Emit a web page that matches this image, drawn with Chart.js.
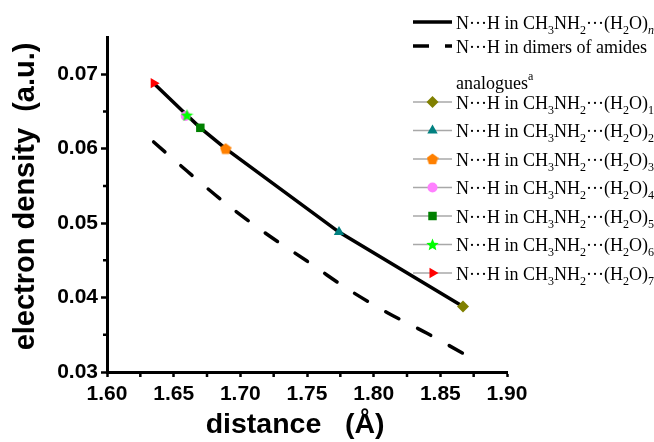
<!DOCTYPE html>
<html>
<head>
<meta charset="utf-8">
<script src="https://cdn.jsdelivr.net/npm/chart.js@4.4.0/dist/chart.umd.min.js"></script>
<style>
html, body { margin: 0; padding: 0; background: #fff; }
#wrap { width: 654px; height: 442px; position: relative; }
</style>
</head>
<body>
<div id="wrap"><canvas id="chart" width="654" height="442"></canvas></div>
<script>
// N...H distance (A) vs electron density (a.u.)
const fitDistance = [1.635, 1.660, 1.670, 1.689, 1.774, 1.867];
const fitDensity  = [0.0688, 0.0645, 0.0628, 0.0600, 0.0488, 0.0388];

const amideDistance = [1.635, 1.660, 1.690, 1.720, 1.750, 1.780, 1.810, 1.840, 1.868];
const amideDensity  = [0.0609, 0.0570, 0.0525, 0.0485, 0.0449, 0.0412, 0.0380, 0.0352, 0.0324];

const clusterN        = ['1', '2', '3', '4', '5', '6', '7'];
const clusterDistance = [1.867, 1.774, 1.689, 1.659, 1.670, 1.660, 1.635];
const clusterDensity  = [0.0388, 0.0488, 0.0600, 0.0644, 0.0628, 0.0645, 0.0688];
const clusterColors   = ['#808000', '#008080', '#FF8000', '#FF80FF', '#008000', '#00FF00', '#FF0000'];

const xTicks = [1.60, 1.65, 1.70, 1.75, 1.80, 1.85, 1.90];
const yTicks = [0.03, 0.04, 0.05, 0.06, 0.07];

function makePentagon(size, color) {
    const c = document.createElement('canvas');
    c.width = c.height = size;
    const g = c.getContext('2d');
    const r = size / 2;
    g.fillStyle = color;
    g.beginPath();
    for (let i = 0; i < 5; i++) {
        const a = -Math.PI / 2 + i * 2 * Math.PI / 5;
        g.lineTo(r + r * Math.cos(a), r + 0.5 + r * Math.sin(a));
    }
    g.closePath();
    g.fill();
    return c;
}

function makeStar(size, color) {
    const c = document.createElement('canvas');
    c.width = c.height = size;
    const g = c.getContext('2d');
    const r = size / 2, ri = r * 0.45;
    g.fillStyle = color;
    g.beginPath();
    for (let i = 0; i < 10; i++) {
        const a = -Math.PI / 2 + i * Math.PI / 5;
        const rr = i % 2 ? ri : r;
        g.lineTo(r + rr * Math.cos(a), r + 0.5 + rr * Math.sin(a));
    }
    g.closePath();
    g.fill();
    return c;
}

const clusterStyles = [
    { pointStyle: 'rectRot', radius: 6, rotation: 0 },
    { pointStyle: 'triangle', radius: 6, rotation: 0 },
    { pointStyle: makePentagon(12, clusterColors[2]), radius: 6, rotation: 0 },
    { pointStyle: 'circle', radius: 5, rotation: 0 },
    { pointStyle: 'rect', radius: 6, rotation: 0 },
    { pointStyle: makeStar(13, clusterColors[5]), radius: 6, rotation: 0 },
    { pointStyle: 'triangle', radius: 6, rotation: 90 }
];

const serif = '"Liberation Serif", "Times New Roman", serif';
const sans = '"Liberation Sans", Arial, sans-serif';

function drawRich(ctx, x, y, parts) {
    parts.forEach(function(p) {
        let dy = 0;
        if (p[1] === 'sub') { ctx.font = '12px ' + serif; dy = 5; }
        else if (p[1] === 'subi') { ctx.font = 'italic 12px ' + serif; dy = 5; }
        else if (p[1] === 'sup') { ctx.font = '12px ' + serif; dy = -9; }
        else { ctx.font = '18px ' + serif; }
        ctx.fillText(p[0], x, y + dy);
        x += ctx.measureText(p[0]).width;
    });
}

function nhLabel(n, italic) {
    return [['N\u00B7\u00B7\u00B7H in CH', ''], ['3', 'sub'], ['NH', ''], ['2', 'sub'],
            ['\u00B7\u00B7\u00B7(H', ''], ['2', 'sub'], ['O)', ''], [n, italic ? 'subi' : 'sub']];
}

const legendPlugin = {
    id: 'paperLegend',
    afterDraw: function(chart) {
        const ctx = chart.ctx;
        const x0 = 413, x1 = 452, tx = 456;
        ctx.save();
        ctx.fillStyle = '#000';
        ctx.textBaseline = 'alphabetic';
        ctx.textAlign = 'left';

        // solid line entry
        ctx.strokeStyle = '#000';
        ctx.lineWidth = 3.5;
        ctx.beginPath(); ctx.moveTo(x0, 22); ctx.lineTo(x1, 22); ctx.stroke();
        drawRich(ctx, tx, 28.5, nhLabel('n', true));

        // dashed line entry
        ctx.setLineDash([16, 16]);
        ctx.beginPath(); ctx.moveTo(x0, 46); ctx.lineTo(x1, 46); ctx.stroke();
        ctx.setLineDash([]);
        drawRich(ctx, tx, 52.5, [['N\u00B7\u00B7\u00B7H in dimers of amides', '']]);
        drawRich(ctx, tx, 89, [['analogues', ''], ['a', 'sup']]);

        clusterN.forEach(function(n, i) {
            const yy = 102 + 28.5 * i;
            ctx.strokeStyle = '#A8A8A8';
            ctx.lineWidth = 1.5;
            ctx.beginPath(); ctx.moveTo(x0, yy); ctx.lineTo(x1, yy); ctx.stroke();
            ctx.fillStyle = clusterColors[i];
            Chart.helpers.drawPoint(ctx, {
                pointStyle: clusterStyles[i].pointStyle,
                rotation: clusterStyles[i].rotation,
                radius: clusterStyles[i].radius,
                borderWidth: 0
            }, (x0 + x1) / 2, yy);
            ctx.fillStyle = '#000';
            drawRich(ctx, tx, yy + 6.5, nhLabel(n, false));
        });
        ctx.restore();
    }
};

// minor ticks between the labelled ones
const minorTicks = {
    id: 'minorTicks',
    afterDraw: function(chart) {
        const ctx = chart.ctx, xs = chart.scales.x, ys = chart.scales.y;
        const area = chart.chartArea;
        ctx.save();
        ctx.strokeStyle = '#000';
        ctx.lineWidth = 2.5;
        ctx.beginPath();
        for (let i = 0; i < xTicks.length - 1; i++) {
            const px = xs.getPixelForValue((xTicks[i] + xTicks[i + 1]) / 2);
            ctx.moveTo(px, area.bottom); ctx.lineTo(px, area.bottom + 5);
        }
        for (let i = 0; i < yTicks.length - 1; i++) {
            const py = ys.getPixelForValue((yTicks[i] + yTicks[i + 1]) / 2);
            ctx.moveTo(area.left - 4, py); ctx.lineTo(area.left, py);
        }
        ctx.stroke();
        ctx.restore();
    }
};

function points(xs, ys) {
    return xs.map(function(x, i) { return { x: x, y: ys[i] }; });
}

const datasets = clusterN.map(function(n, i) {
    return {
        label: 'N\u00B7\u00B7\u00B7H in CH3NH2\u00B7\u00B7\u00B7(H2O)' + n,
        data: [{ x: clusterDistance[i], y: clusterDensity[i] }],
        showLine: false,
        pointStyle: clusterStyles[i].pointStyle,
        pointRotation: clusterStyles[i].rotation,
        pointRadius: clusterStyles[i].radius,
        pointBorderWidth: 0,
        backgroundColor: clusterColors[i],
        borderColor: clusterColors[i],
        order: i === 3 ? 2 : 1
    };
});

datasets.push({
    label: 'N\u00B7\u00B7\u00B7H in CH3NH2\u00B7\u00B7\u00B7(H2O)n',
    data: points(fitDistance, fitDensity),
    showLine: true,
    borderColor: '#000',
    borderWidth: 3.5,
    pointRadius: 0,
    tension: 0,
    order: 5
});

datasets.push({
    label: 'N\u00B7\u00B7\u00B7H in dimers of amides',
    data: points(amideDistance, amideDensity),
    showLine: true,
    borderColor: '#000',
    borderWidth: 3.5,
    borderDash: [15, 21],
    borderCapStyle: 'round',
    pointRadius: 0,
    tension: 0.3,
    order: 5
});

const ctx = document.getElementById('chart').getContext('2d');
new Chart(ctx, {
    type: 'scatter',
    data: { datasets: datasets },
    options: {
        responsive: false,
        animation: false,
        layout: { padding: { top: 37, right: 147, left: 0, bottom: 0 } },
        plugins: { legend: { display: false }, tooltip: { enabled: false } },
        scales: {
            x: {
                type: 'linear',
                min: 1.6,
                max: 1.9,
                afterFit: function(s) { s.height = 70; },
                afterBuildTicks: function(s) { s.ticks = xTicks.map(function(v) { return { value: v }; }); },
                grid: { drawOnChartArea: false, drawTicks: true, tickLength: 5, tickWidth: 2.5, tickColor: '#000' },
                border: { display: true, width: 3, color: '#000' },
                ticks: {
                    color: '#000',
                    padding: 5,
                    font: { family: sans, size: 21, weight: 'bold' },
                    callback: function(v) { return v.toFixed(2); }
                },
                title: {
                    display: true,
                    text: 'distance   (\u00C5)   ',
                    color: '#000',
                    padding: 0,
                    font: { family: sans, size: 28.5, weight: 'bold' }
                }
            },
            y: {
                type: 'linear',
                min: 0.03,
                max: 0.075,
                afterFit: function(s) { s.width = 107; },
                afterBuildTicks: function(s) { s.ticks = yTicks.map(function(v) { return { value: v }; }); },
                grid: { drawOnChartArea: false, drawTicks: true, tickLength: 6, tickWidth: 2.5, tickColor: '#000' },
                border: { display: true, width: 3, color: '#000' },
                ticks: {
                    color: '#000',
                    padding: 3,
                    font: { family: sans, size: 21, weight: 'bold' },
                    callback: function(v) { return v.toFixed(2); }
                },
                title: {
                    display: true,
                    text: '  electron density  (a.u.)',
                    color: '#000',
                    padding: 9,
                    font: { family: sans, size: 29, weight: 'bold' }
                }
            }
        }
    },
    plugins: [legendPlugin, minorTicks]
});
</script>
</body>
</html>
